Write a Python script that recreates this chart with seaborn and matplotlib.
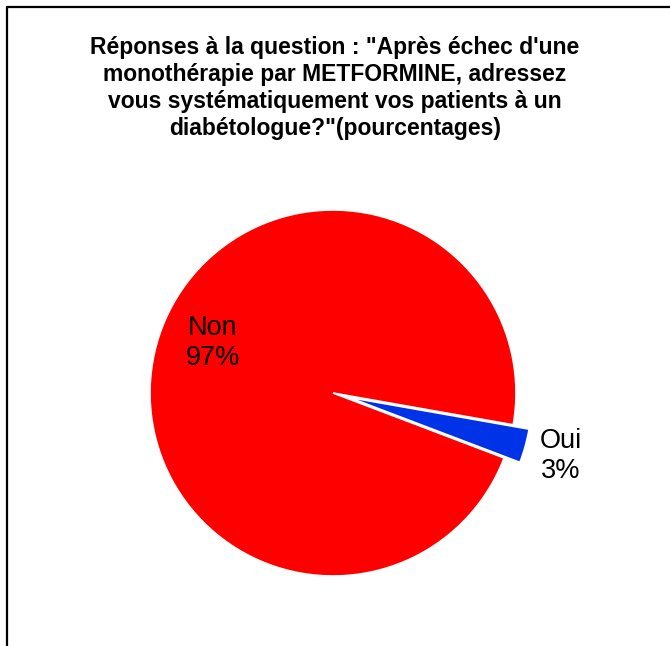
import numpy as np
import seaborn as sns
import matplotlib.pyplot as plt
from matplotlib.lines import Line2D

sns.set_theme(style='white')
plt.rcParams['font.family'] = ['Liberation Sans', 'DejaVu Sans']

# data
categories = ['Non', 'Oui']
values = [97, 3]
colors = ['#FF0000', '#0033E8']
title = ('Réponses à la question : "Après échec d\'une\n'
         'monothérapie par METFORMINE, adressez\n'
         'vous systématiquement vos patients à un\n'
         'diabétologue?"(pourcentages)')

W, H = 670, 646
fig = plt.figure(figsize=(W / 100, H / 100), dpi=100)
fig.patch.set_facecolor('white')

# pie centre (333, 393) px, radius 183 px
cx, cy, r = 333, 393, 183
ax = fig.add_axes([(cx - r) / W, (H - cy - r) / H, 2 * r / W, 2 * r / H])
wedges, _ = ax.pie(values, colors=colors, startangle=-10, explode=[0, 0.09],
                   counterclock=True,
                   wedgeprops=dict(edgecolor='white', linewidth=1.2))
ax.set_xlim(-1, 1)
ax.set_ylim(-1, 1)
ax.axis('off')
for w in wedges:
    w.set_clip_on(False)

# labels: Non inside, Oui outside
label_pos = {'Non': (0.71, -7), 'Oui': (1.2, 0)}
for w, cat, v in zip(wedges, categories, values):
    dist, dang = label_pos[cat]
    ang = np.deg2rad((w.theta1 + w.theta2) / 2 + dang)
    ox, oy = w.center
    ax.text(ox + dist * np.cos(ang), oy + dist * np.sin(ang), f'{cat}\n{v}%',
            ha='center', va='center', multialignment='center',
            fontsize=19.5, color='black', linespacing=1.2, clip_on=False)

fig.text(0.5, 1 - 88 / H, title, ha='center', va='center',
         multialignment='center', fontsize=16.5, fontweight='bold',
         color='black', linespacing=1.22)

# frame
fig.add_artist(Line2D([6.5 / W, 6.5 / W], [0, 1 - 7 / H], color='black', lw=1.6))
fig.add_artist(Line2D([6.5 / W, 1], [1 - 7 / H, 1 - 7 / H], color='black', lw=1.6))

fig.savefig('out.png', dpi=100, facecolor='white')
